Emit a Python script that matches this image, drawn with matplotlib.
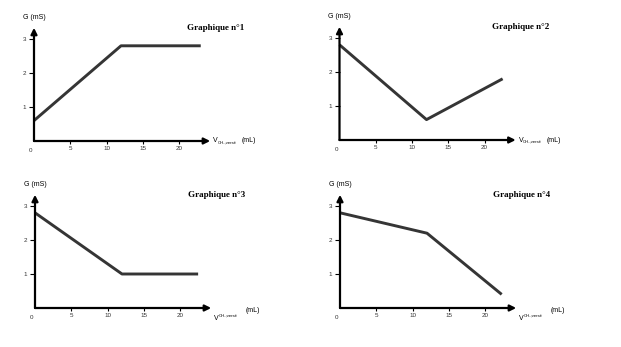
import matplotlib.pyplot as plt

# volume of OH- added (mL) and conductance G (mS) at the break points
v1 = [0, 12, 23]
g1 = [0.6, 2.8, 2.8]
v2 = [0, 12, 22.5]
g2 = [2.8, 0.6, 1.8]
v3 = [0, 12, 22.5]
g3 = [2.8, 1.0, 1.0]
v4 = [0, 12, 22.3]
g4 = [2.8, 2.2, 0.4]

titles = ["Graphique n°1", "Graphique n°2", "Graphique n°3", "Graphique n°4"]
x_ticks = [5, 10, 15, 20]
y_ticks = [1, 2, 3]

W, H = 621, 347
SX, SY = 7.25, 34.0          # pixels per mL / per mS
XMAX, YMAX = 25, 3.6
origins = [(34, 141), (339.5, 140), (35, 308), (340, 308)]
sub_below = [False, False, True, True]

sans = ["Liberation Sans", "DejaVu Sans"]
serif = "Liberation Serif"

fig = plt.figure(figsize=(W / 100, H / 100), dpi=100)

for (ox, oy), v, g, title, below in zip(origins, [v1, v2, v3, v4], [g1, g2, g3, g4],
                                        titles, sub_below):
    ax = fig.add_axes([ox / W, (H - oy) / H, XMAX * SX / W, YMAX * SY / H])
    ax.set_xlim(0, XMAX)
    ax.set_ylim(0, YMAX)
    for s in ax.spines.values():
        s.set_visible(False)
    ax.patch.set_alpha(0)

    # curve
    ax.plot(v, g, color="#353535", lw=2.1, solid_capstyle="butt", clip_on=False)

    # axes drawn as arrows
    arrow = dict(arrowstyle="-|>", lw=1.6, color="black", shrinkA=0, shrinkB=0,
                 mutation_scale=9)
    ax.annotate("", xy=(24.3, 0), xytext=(0, 0), arrowprops=arrow, annotation_clip=False)
    ax.annotate("", xy=(0, 3.33), xytext=(0, 0), arrowprops=arrow, annotation_clip=False)

    ax.set_xticks(x_ticks)
    ax.set_yticks(y_ticks)
    ax.set_xticklabels([str(t) for t in x_ticks], fontsize=4.5, family=sans, color="#333333")
    ax.set_yticklabels([str(t) for t in y_ticks], fontsize=4.5, family=sans, color="#333333")
    ax.tick_params(axis="x", length=2.2, width=0.8, pad=1.5)
    ax.tick_params(axis="y", length=3.5, width=0.8, pad=2)
    ax.text(-0.45, -0.2, "0", fontsize=4.5, family=sans, color="#333333",
            ha="center", va="top")

    ax.text(0, 3.52, "G (mS)", fontsize=5, family=sans, ha="center", va="bottom")
    ax.text(25, 3.33, title, fontsize=6.5, family=serif, weight="bold",
            ha="center", va="center")

    # x-axis label
    if below:
        ax.text(24.7, -0.3, "V", fontsize=5, family=sans, ha="left", va="center")
        ax.annotate("OH-;versé", xy=(24.7, -0.3), xytext=(3.2, 1.6),
                    textcoords="offset points", fontsize=3, family=sans,
                    ha="left", va="center", annotation_clip=False)
        ax.text(29.0, -0.06, "(mL)", fontsize=5, family=sans, ha="left", va="center")
    else:
        ax.text(24.7, 0, "V", fontsize=5, family=sans, ha="left", va="center")
        ax.annotate("OH-,versé", xy=(24.7, 0), xytext=(3.2, -0.8),
                    textcoords="offset points", fontsize=3, family=sans,
                    ha="left", va="center", annotation_clip=False)
        ax.text(28.6, 0, "(mL)", fontsize=5, family=sans, ha="left", va="center")

fig.savefig("out.png", dpi=100)
